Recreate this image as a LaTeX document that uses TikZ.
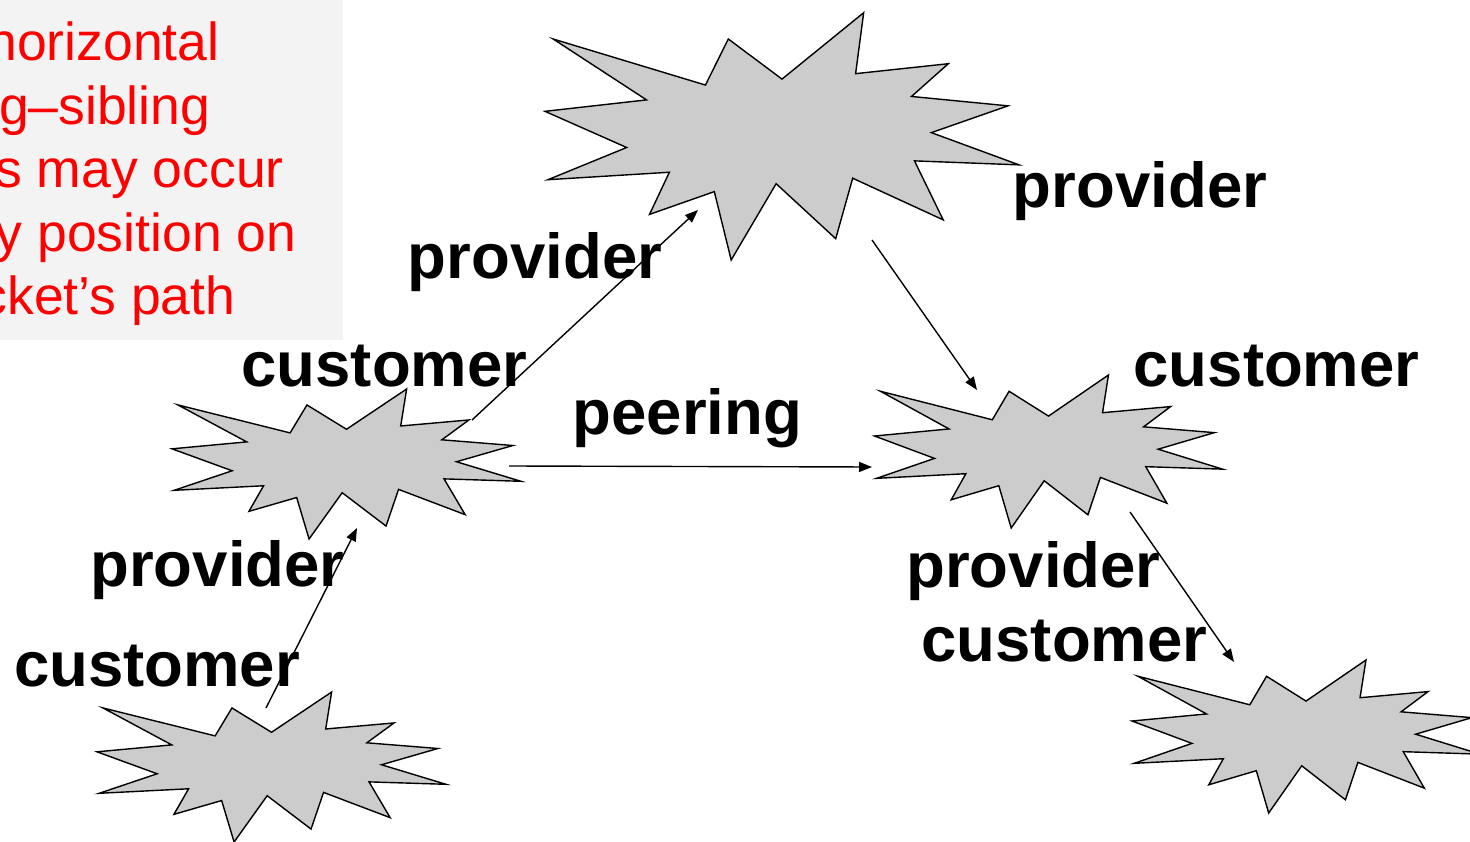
\documentclass[tikz,border=0pt]{standalone}
\usepackage{fontspec}
\setmainfont{Liberation Sans}
\usetikzlibrary{arrows.meta}
\definecolor{burstgray}{RGB}{204,204,204}
\definecolor{panelgray}{RGB}{243,243,243}
\definecolor{notered}{RGB}{255,0,0}
\tikzset{
  burst/.style={draw=black, fill=burstgray, line width=1.4pt, line join=miter},
  rel/.style={font=\bfseries\fontsize{63.5}{63.5}\selectfont, inner sep=0pt, anchor=base},
  note/.style={font=\fontsize{53.5}{64}\selectfont, text=notered, inner sep=0pt, anchor=base east},
  link/.style={line width=1.4pt, -{Triangle[length=13pt,width=10pt]}},
}
\newcommand\mkburst[5]{%
  \node[inner sep=0pt, minimum width=#4pt, minimum height=#5pt, anchor=north west] (#1) at (#2,#3) {};
  \begin{scope}[shift={(#2,#3)}, xscale=#4/100, yscale=#5/100]
    \draw[burst] (50,26.85) -- (67.23,0) -- (65.53,24.65) -- (85.09,20.63) -- (77.32,33.87)
      -- (97.67,37.67) -- (81.51,48.50) -- (100,61.53) -- (77.95,59.92) -- (84.00,83.77)
      -- (64.91,66.93) -- (61.33,91.38) -- (48.76,69.14) -- (39.28,100) -- (35.72,72.35)
      -- (22.05,81.56) -- (26.24,64.52) -- (0.625,67.53) -- (17.23,54.51) -- (0,39.88)
      -- (21.42,35.26) -- (1.71,10.63) -- (33.85,29.26) -- (38.67,10.63) -- cycle;
  \end{scope}}
\begin{document}
\begin{tikzpicture}[x=1pt, y=-1pt]
\useasboundingbox (0,0) rectangle (1470,842);
% note panel
\node[fill=panelgray, inner sep=0pt, minimum width=343pt, minimum height=340pt, anchor=north west] (panel) at (0,0) {};
\node[note] (n1) at (219.5,61) {horizontal};
\node[note] (n2) at (210.5,125) {g–sibling};
\node[note] (n3) at (284,188) {s may occur};
\node[note] (n4) at (296.5,252) {y position on};
\node[note] (n5) at (235.5,315) {cket’s path};
% networks
\mkburst{top}{545}{12.7}{474}{247.3}
\mkburst{lmid}{172}{389}{349}{150}
\mkburst{rmid}{874.5}{375}{348}{153}
\mkburst{lbot}{97}{692}{349}{150}
\mkburst{rbot}{1132}{660}{348}{153}
% connector ends
\coordinate (a1s) at (472,420);  \coordinate (a1e) at (698,210);
\coordinate (a2s) at (872,240);  \coordinate (a2e) at (977,390);
\coordinate (a3s) at (509,466);  \coordinate (a3e) at (872,467);
\coordinate (a4s) at (266,708);  \coordinate (a4e) at (357,528);
\coordinate (a5s) at (1130,512); \coordinate (a5e) at (1234,662);
\draw[link] (a1s) -- (a1e);
\draw[link] (a2s) -- (a2e);
\draw[link] (a3s) -- (a3e);
\draw[link] (a4s) -- (a4e);
\draw[link] (a5s) -- (a5e);
% relation labels
\node[rel] (l1) at (1140,208) {provider};
\node[rel] (l2) at (535,279) {provider};
\node[rel] (l3) at (384.5,386) {customer};
\node[rel] (l4) at (687.5,434) {peering};
\node[rel] (l5) at (1276.5,386) {customer};
\node[rel] (l6) at (217.5,586) {provider};
\node[rel] (l7) at (157,686) {customer};
\node[rel] (l8) at (1033.5,587) {provider};
\node[rel] (l9) at (1064.5,661) {customer};
\end{tikzpicture}
\end{document}
